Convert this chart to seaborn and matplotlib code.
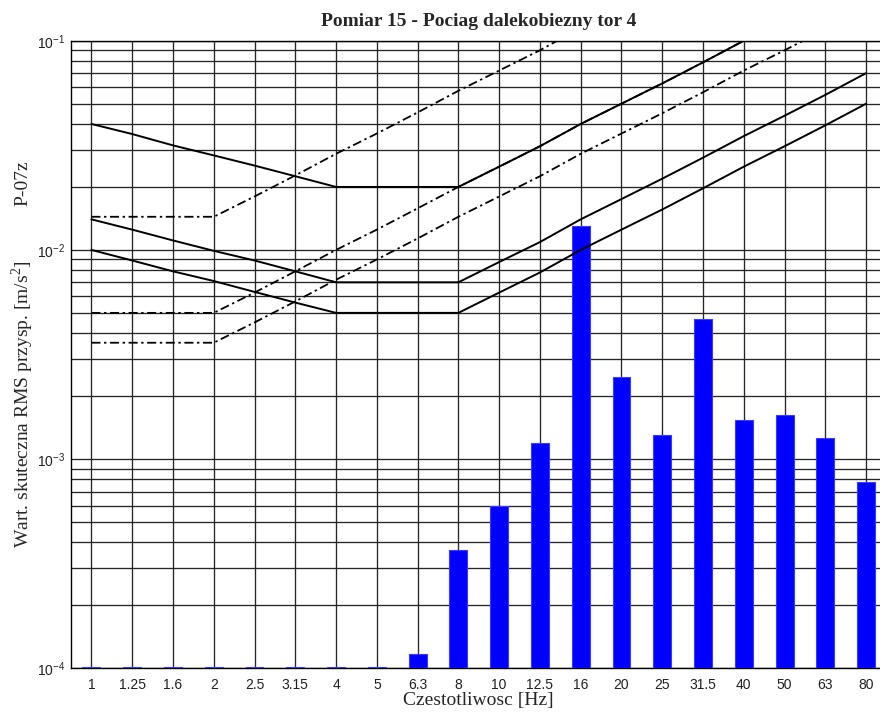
import numpy as np
import pandas as pd
import matplotlib
matplotlib.use("Agg")
import matplotlib.pyplot as plt
import seaborn as sns
from matplotlib.ticker import LogLocator, NullFormatter

# One-third-octave band centre frequencies [Hz]
bands = ["1", "1.25", "1.6", "2", "2.5", "3.15", "4", "5", "6.3", "8",
         "10", "12.5", "16", "20", "25", "31.5", "40", "50", "63", "80"]

# Measured RMS acceleration per band [m/s^2]
rms_accel = [1.01e-4, 1.01e-4, 1.01e-4, 1.01e-4, 1.01e-4, 1.01e-4, 1.01e-4, 1.01e-4,
             1.17e-4, 3.68e-4, 5.97e-4, 1.19e-3, 1.30e-2, 2.48e-3, 1.31e-3,
             4.66e-3, 1.53e-3, 1.63e-3, 1.26e-3, 7.8e-4]

# Limit curves, vertical direction (solid)
limit_z_1 = [0.01, 0.0089, 0.0079, 0.0071, 0.0063, 0.0056, 0.005, 0.005, 0.005, 0.005,
             0.00625, 0.0078, 0.01, 0.0125, 0.0156, 0.0197, 0.025, 0.0313, 0.0394, 0.05]
limit_z_2 = [0.014, 0.0125, 0.0111, 0.0099, 0.0089, 0.0079, 0.007, 0.007, 0.007, 0.007,
             0.00875, 0.0109, 0.014, 0.0175, 0.0219, 0.0276, 0.035, 0.0438, 0.0551, 0.07]
limit_z_3 = [0.04, 0.0358, 0.0316, 0.0283, 0.0253, 0.0225, 0.02, 0.02, 0.02, 0.02,
             0.025, 0.0313, 0.04, 0.05, 0.0625, 0.0788, 0.1, 0.125, 0.1575, 0.2]

# Limit curves, horizontal direction (dash-dot)
limit_xy_1 = [0.0036, 0.0036, 0.0036, 0.0036, 0.0045, 0.00567, 0.0072, 0.009, 0.01134, 0.0144,
              0.018, 0.0225, 0.0288, 0.036, 0.045, 0.0567, 0.072, 0.09, 0.1134, 0.144]
limit_xy_2 = [0.005, 0.005, 0.005, 0.005, 0.00625, 0.0079, 0.01, 0.0125, 0.0158, 0.02,
              0.025, 0.0313, 0.04, 0.05, 0.0625, 0.0788, 0.1, 0.125, 0.158, 0.2]
limit_xy_3 = [0.0144, 0.0144, 0.0144, 0.0144, 0.018, 0.0227, 0.0288, 0.036, 0.0454, 0.0576,
              0.072, 0.09, 0.1152, 0.144, 0.18, 0.227, 0.288, 0.36, 0.454, 0.576]

sns.set_theme(style="white")
plt.rcParams["font.family"] = ["Liberation Sans", "DejaVu Sans"]
plt.rcParams["mathtext.fontset"] = "custom"
plt.rcParams["mathtext.rm"] = "Liberation Serif"

fig = plt.figure(figsize=(8.8, 7.13), dpi=100)
fig.patch.set_facecolor("white")
ax = fig.add_axes([0.0807, 0.0627, 0.9267, 0.8802])
ax.set_yscale("log")

df = pd.DataFrame({"band": bands, "rms": rms_accel})
sns.barplot(data=df, x="band", y="rms", ax=ax, order=bands, color="#0000ff",
            saturation=1, width=0.44, errorbar=None, edgecolor="#3a3aff",
            linewidth=0.8, zorder=3)

pos = np.arange(len(bands))
dashdot = (0, (5, 2, 1.3, 2))
for curve in (limit_z_1, limit_z_2, limit_z_3):
    ax.plot(pos, curve, color="black", lw=1.4, ls="-", zorder=5)
for curve in (limit_xy_1, limit_xy_2, limit_xy_3):
    ax.plot(pos, curve, color="black", lw=1.3, ls=dashdot, zorder=4)

ax.set_xlim(-0.5, len(bands) - 0.5)
ax.set_ylim(1e-4, 1e-1)
ax.yaxis.set_major_locator(LogLocator(base=10))
ax.yaxis.set_minor_locator(LogLocator(base=10, subs=np.arange(2, 10)))
ax.yaxis.set_minor_formatter(NullFormatter())

grid_kw = dict(color="#262626", lw=0.95, ls="-")
ax.grid(True, which="both", axis="y", **grid_kw)
ax.grid(True, which="major", axis="x", **grid_kw)
ax.set_axisbelow(True)

for sp in ax.spines.values():
    sp.set_color("black")
    sp.set_linewidth(1.0)
    sp.set_visible(True)

ax.tick_params(axis="both", which="both", length=0, colors="#202020")
ax.tick_params(axis="x", labelsize=10, pad=7)
ax.tick_params(axis="y", labelsize=10, pad=4)
ax.set_xlabel("")
ax.set_ylabel("")

serif = ["Liberation Serif", "DejaVu Serif"]
fig.text(478.7 / 880, 1 - 21 / 713, "Pomiar 15 - Pociag dalekobiezny tor 4",
         ha="center", va="center", family=serif, weight="bold", size=14)
fig.text(478 / 880, 1 - 700 / 713, "Czestotliwosc [Hz]",
         ha="center", va="center", family=serif, size=14)
fig.text(23 / 880, 1 - 404 / 713,
         "Wart. skuteczna RMS przysp. [m/s$^{\\mathdefault{2}}$]",
         ha="center", va="center", rotation=90, family=serif, size=14)
fig.text(23 / 880, 1 - 183 / 713, "P-07z",
         ha="center", va="center", rotation=90, family=serif, size=14)

fig.savefig("out.png", dpi=100, facecolor="white")
